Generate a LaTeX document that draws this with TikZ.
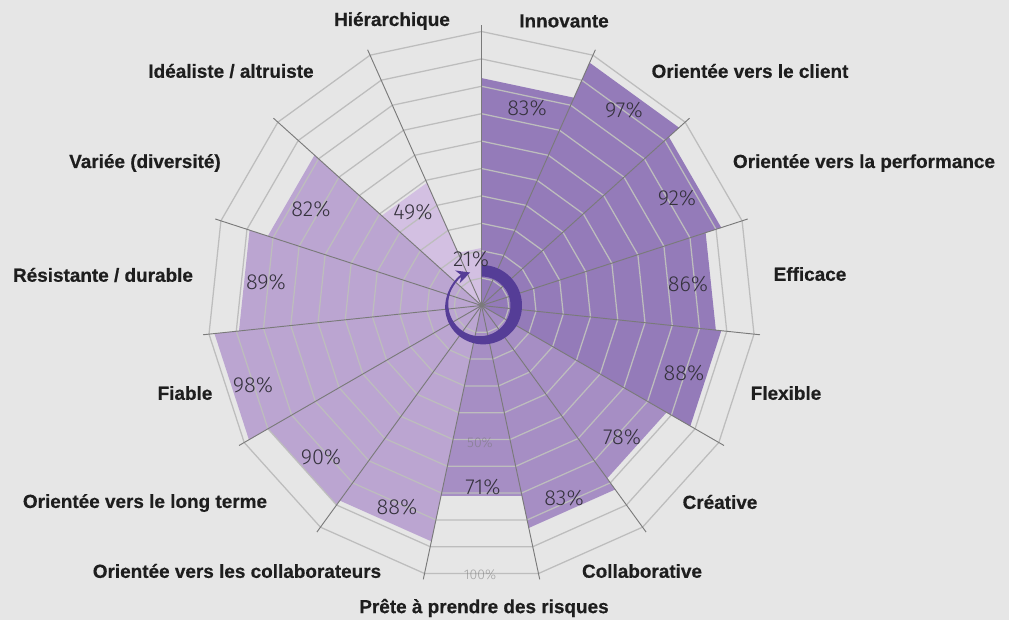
\documentclass[tikz,border=0pt]{standalone}
\usepackage{fontspec}
\setmainfont{Liberation Sans}
\newfontfamily\lightfont{Fira Sans Light}
\newfontfamily\catfont{Liberation Sans Bold}[FakeBold=0.5]
\usetikzlibrary{arrows.meta}
\definecolor{bg}{HTML}{E6E6E6}
\definecolor{barA}{HTML}{947BB9}
\definecolor{barB}{HTML}{A68EC4}
\definecolor{barC}{HTML}{BBA5D1}
\definecolor{barD}{HTML}{D3C0E2}
\definecolor{ringc}{HTML}{BDBDBD}
\definecolor{spokec}{HTML}{7A7A7A}
\definecolor{arrowc}{HTML}{553D97}
\definecolor{labc}{HTML}{1E1E1E}
\definecolor{pctc}{HTML}{35323D}
\definecolor{scalec}{HTML}{777777}
\begin{document}
\begin{tikzpicture}[x=0.75pt,y=-0.75pt,
  cat/.style={font=\catfont\fontsize{14.2}{16}\selectfont, text=labc, inner sep=0pt},
  pct/.style={font=\lightfont\fontsize{16.3}{18}\selectfont, text=pctc, inner sep=0pt},
  scalelab/.style={font=\lightfont\fontsize{10.5}{12}\selectfont, text=scalec, text opacity=0.6, inner sep=0pt},
  ring/.style={draw=ringc, line width=0.95pt},
  spoke/.style={draw=spokec, line width=0.7pt},
  bar/.style={fill=#1, draw=none}]
\fill[bg] (0,0) rectangle (1009,620);
\useasboundingbox (0,0) rectangle (1009,620);
\begin{scope}[shift={(481.5,305.5)}, yscale=-1]
  \coordinate (ctr) at (0,0);
  \foreach \k/\v/\c in {0/83/barA,1/97/barA,2/92/barA,3/86/barA,4/88/barA,
                        5/78/barB,6/83/barB,7/71/barB,
                        8/88/barC,9/90/barC,10/98/barC,11/89/barC,12/82/barC,
                        13/49/barD,14/21/barD}{
    \fill[bar=\c] (ctr) -- ({90-24*\k}:{2.74*\v}) -- ({66-24*\k}:{2.74*\v}) -- cycle;
  }
  \foreach \i in {1,...,10}{
    \draw[ring] (90:{27.4*\i}) \foreach \k in {1,...,14}{ -- ({90-24*\k}:{27.4*\i}) } -- cycle;
  }
  \foreach \k in {0,...,14}{
    \draw[spoke] (ctr) -- ({90-24*\k}:280);
  }
  \fill[arrowc] plot[domain=90:-200, samples=90] (\x:{34.75+0.5*min(11.5,max(2,11.5+(\x+30)*9.5/170))})
     -- plot[domain=-200:90, samples=90] (\x:{34.75-0.5*min(11.5,max(2,11.5+(\x+30)*9.5/170))}) -- cycle;
  \draw[arrowc, line width=1.5pt, -{Stealth[length=10pt,width=10pt]}]
     (-195:34.9) arc[start angle=-195, end angle=-251, radius=34.9];
\end{scope}

% percentages
\node[pct] (p0) at (527,108) {83\%};
\node[pct] (p1) at (624,110) {97\%};
\node[pct] (p2) at (677,198) {92\%};
\node[pct] (p3) at (688,284) {86\%};
\node[pct] (p4) at (684,373) {88\%};
\node[pct] (p5) at (622,437) {78\%};
\node[pct] (p6) at (564,498) {83\%};
\node[pct] (p7) at (483,487) {71\%};
\node[pct] (p8) at (397,507) {88\%};
\node[pct] (p9) at (321,457) {90\%};
\node[pct] (p10) at (253,385) {98\%};
\node[pct] (p11) at (266,282) {89\%};
\node[pct] (p12) at (311,209) {82\%};
\node[pct] (p13) at (413,212) {49\%};
\node[pct] (p14) at (471,259) {21\%};

% scale
\node[scalelab] (s50) at (480,443) {50\%};
\node[scalelab] (s100) at (480,575) {100\%};

% categories
\node[cat] (c0) at (564,21) {Innovante};
\node[cat] (c1) at (750,71) {Orientée vers le client};
\node[cat] (c2) at (864,163) {Orientée vers la performance};
\node[cat] (c3) at (810,274) {Efficace};
\node[cat] (c4) at (786,393) {Flexible};
\node[cat] (c5) at (720,502) {Créative};
\node[cat] (c6) at (642,571) {Collaborative};
\node[cat] (c7) at (484,608) {Prête à prendre des risques};
\node[cat] (c8) at (237,571) {Orientée vers les collaborateurs};
\node[cat] (c9) at (145,503) {Orientée vers le long terme};
\node[cat] (c10) at (185,393) {Fiable};
\node[cat] (c11) at (103,275) {Résistante / durable};
\node[cat] (c12) at (145,163) {Variée (diversité)};
\node[cat] (c13) at (231,71) {Idéaliste / altruiste};
\node[cat] (c14) at (392,21) {Hiérarchique};
\end{tikzpicture}
\end{document}
